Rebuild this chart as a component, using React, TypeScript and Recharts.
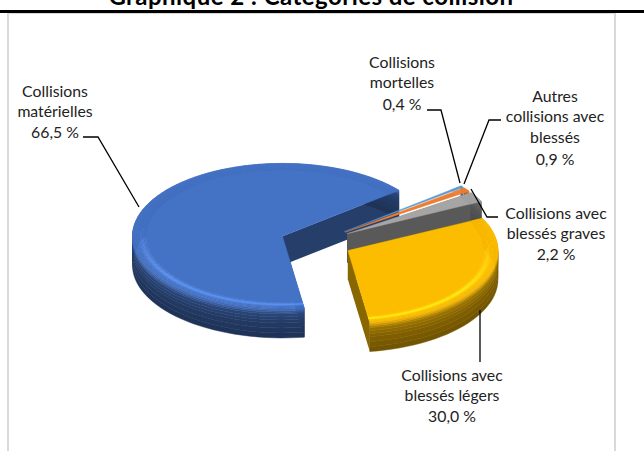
import React from "react";
import { PieChart, Pie } from "recharts";

const W = 644;
const H = 451;
const FONT = "Lato, 'Noto Sans', sans-serif";

// Clockwise around the pie, as drawn in the reference
const categoryLines = [
  ["Collisions", "matérielles"],
  ["Collisions", "mortelles"],
  ["Autres", "collisions avec", "blessés"],
  ["Collisions avec", "blessés graves"],
  ["Collisions avec", "blessés légers"],
];
const values = [66.5, 0.4, 0.9, 2.2, 30.0];
const colors = ["#4472C4", "#5B9BD5", "#ED7D31", "#A5A5A5", "#FCBC00"];

const data = values.map((value, i) => ({
  name: categoryLines[i].join(" "),
  value,
  fill: colors[i],
}));

// Label layout: centre x, baseline of each line, and the leader line
const labelLayout = [
  { x: 55, ys: [97, 117, 138], leader: "83,137 98,137 139,207" },
  { x: 402, ys: [68, 88, 110], leader: "427,110 441,110 460,183" },
  { x: 555, ys: [102, 122, 143, 165], leader: "501,120 489,120 464,184" },
  { x: 556, ys: [219, 239, 260], leader: "498,217 487,217 471,189" },
  { x: 452, ys: [381, 401, 422], leader: "480,310 480,362" },
];

const SQUASH = 0.485; // ellipse ratio of the tilted disc
const DEPTH = 29; // wall height
const EXPLODE = 36; // distance every slice moves away from the centre
const SUBDIV = 3; // smoothing of the rim shading
const THIN_SLICE = 5; // degrees; walls of thinner slices stay hidden behind their neighbour

// Rim profile from bottom of wall to top of bevel: radius fraction, drop, brightness
const rimProfile: [number, number, number][] = [
  [1.0, DEPTH, 0.44],
  [1.0, 14, 0.51],
  [1.0, 5, 0.62],
  [1.0, 0, 0.97],
  [0.96, 0, 1.0],
  [0.935, 0, 1.3],
  [0.91, 0, 1.0],
];

function shade(hex: string, m: number) {
  const n = parseInt(hex.slice(1), 16);
  const c = [(n >> 16) & 255, (n >> 8) & 255, n & 255].map((v) =>
    Math.min(255, Math.round(v * m))
  );
  return `rgb(${c[0]},${c[1]},${c[2]})`;
}

function Slice3D(props: any) {
  const { cx, cy, outerRadius: R, startAngle, endAngle, fill } = props;
  const a1 = Math.min(startAngle, endAngle);
  const a2 = Math.max(startAngle, endAngle);
  const mid = ((a1 + a2) / 2) * (Math.PI / 180);
  const ox = cx + EXPLODE * Math.cos(mid);
  const oy = cy - EXPLODE * SQUASH * Math.sin(mid);
  const pt = (deg: number, r: number, z: number): [number, number] => {
    const a = (deg * Math.PI) / 180;
    return [ox + r * R * Math.cos(a), oy - r * R * SQUASH * Math.sin(a) + z];
  };
  const steps = Math.max(2, Math.ceil((a2 - a1) / 3));
  const angleAt = (i: number) => a1 + ((a2 - a1) * i) / steps;
  const arc = (r: number, z: number) =>
    Array.from({ length: steps + 1 }, (_, i) => pt(angleAt(i), r, z));
  const d = (pts: [number, number][]) =>
    "M" + pts.map((p) => p[0].toFixed(2) + "," + p[1].toFixed(2)).join("L") + "Z";
  const wall = (deg: number) =>
    d([pt(deg, 0, 0), pt(deg, 1, 0), pt(deg, 1, DEPTH), pt(deg, 0, DEPTH)]);
  const wallColor = shade(fill, 0.54);
  const thin = a2 - a1 < THIN_SLICE;

  const layers: [number, number, number][] = [];
  rimProfile.forEach((p, i) => {
    const q = rimProfile[i + 1];
    if (!q) return layers.push(p);
    for (let s = 0; s < SUBDIV; s++) {
      const t = s / SUBDIV;
      layers.push([p[0] + (q[0] - p[0]) * t, p[1] + (q[1] - p[1]) * t, p[2] + (q[2] - p[2]) * t]);
    }
  });

  const bands: React.ReactNode[] = [];
  for (let li = 0; li < layers.length - 1; li++) {
    const p = layers[li];
    const q = layers[li + 1];
    const m = (p[2] + q[2]) / 2;
    if (p[1] === 0 && q[1] === 0) {
      // the bevel only catches the light along the front of the disc
      for (let i = 0; i < steps; i++) {
        const ang = (angleAt(i) + angleAt(i + 1)) / 2;
        const front = Math.max(0, Math.min(1, 0.2 - 1.3 * Math.sin((ang * Math.PI) / 180)));
        const col = shade(fill, 1 + (m - 1) * front);
        bands.push(
          <path
            key={li + "-" + i}
            d={d([
              pt(angleAt(i), p[0], 0),
              pt(angleAt(i + 1), p[0], 0),
              pt(angleAt(i + 1), q[0], 0),
              pt(angleAt(i), q[0], 0),
            ])}
            fill={col}
            stroke={col}
            strokeWidth={0.5}
          />
        );
      }
    } else {
      const col = shade(fill, m);
      bands.push(
        <path
          key={li}
          d={d([...arc(p[0], p[1]), ...arc(q[0], q[1]).reverse()])}
          fill={col}
          stroke={col}
          strokeWidth={0.5}
        />
      );
    }
  }
  const last = rimProfile[rimProfile.length - 1];
  const top = d([pt(a1, 0, 0), ...arc(last[0], last[1])]);
  return (
    <g>
      {!thin && <path d={wall(a1)} fill={wallColor} />}
      {!thin && <path d={wall(a2)} fill={wallColor} />}
      {bands}
      <path d={top} fill={fill} stroke={fill} strokeWidth={0.4} />
    </g>
  );
}

function SliceLabel(props: any) {
  const i = props.index;
  const layout = labelLayout[i];
  const pct = values[i].toFixed(1).replace(".", ",") + " %";
  const lines = [...categoryLines[i], pct];
  return (
    <g>
      <polyline points={layout.leader} fill="none" stroke="#000" strokeWidth={1.3} />
      {lines.map((t, k) => (
        <text
          key={k}
          x={layout.x}
          y={layout.ys[k]}
          textAnchor="middle"
          fontFamily={FONT}
          fontSize={15.8}
          fill="#222"
        >
          {t}
        </text>
      ))}
    </g>
  );
}

export default function App() {
  return (
    <div style={{ position: "absolute", left: 0, top: 0, width: W, height: H, background: "#fff", overflow: "hidden" }}>
      <div style={{ position: "absolute", left: 7, top: 12, width: 609, height: 470, border: "2px solid #d9d9d9", boxSizing: "border-box" }} />
      <div style={{ position: "absolute", left: 0, top: 10, width: W, height: 3, background: "#000" }} />
      <div style={{ position: "absolute", left: 0, top: 0, width: W }}>
        <PieChart width={W} height={H} margin={{ top: 0, right: 0, bottom: 0, left: 0 }}>
          <text x={311} y={5} textAnchor="middle" fontFamily={FONT} fontWeight={700} fontSize={24} letterSpacing={0.45} fill="#000">
            Graphique 2 : Catégories de collision
          </text>
          <Pie
            data={data}
            dataKey="value"
            nameKey="name"
            cx={316}
            cy={242.5}
            innerRadius={0}
            outerRadius={150}
            startAngle={278.4}
            endAngle={-81.6}
            paddingAngle={0}
            stroke="none"
            isAnimationActive={false}
            shape={Slice3D}
            label={SliceLabel}
            labelLine={false}
          />
        </PieChart>
      </div>
    </div>
  );
}
